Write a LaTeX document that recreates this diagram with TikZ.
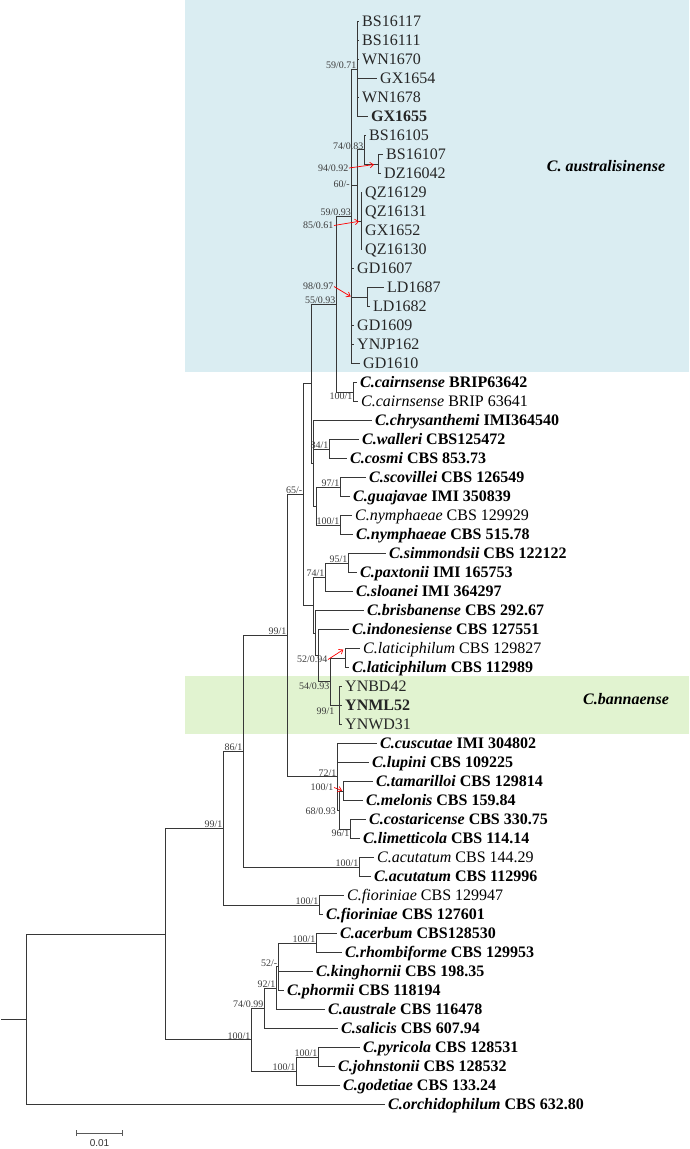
\documentclass[tikz,border=0pt]{standalone}
\usepackage{fontspec}
\setmainfont{Liberation Serif}
\newfontfamily\barfont{Liberation Sans}
\usetikzlibrary{arrows.meta,calc}
\definecolor{cladeblue}{RGB}{218,237,242}
\definecolor{cladegreen}{RGB}{225,243,208}
\definecolor{linegray}{RGB}{55,55,55}
\definecolor{supgray}{RGB}{60,60,60}
\newcommand{\spb}[2]{\textbf{\textit{#1} #2}}
\newcommand{\spr}[2]{\textit{#1} #2}
\tikzset{
  branch/.style={draw=linegray, line width=1pt},
  leaf/.style={anchor=west, inner xsep=3pt, inner ysep=0pt, text height=10.6pt, text depth=0pt, font=\fontsize{16}{19}\selectfont},
  isolate/.style={leaf, text=black!85},
  support/.style={inner sep=0.5pt, text depth=0pt, text=supgray, font=\fontsize{10}{12}\selectfont},
  redarrow/.style={draw=red, line width=0.7pt, -{Straight Barb[length=3.5pt,width=5.5pt]}},
  cladename/.style={font=\fontsize{16}{19}\selectfont\bfseries\itshape},
  scalebar/.style={draw=black!65, line width=0.9pt, {Bar[width=6pt]}-{Bar[width=6pt]}}
}
\begin{document}
\begin{tikzpicture}[x=1pt,y=-1pt]
	\useasboundingbox (0,0) rectangle (689,1149);
	\fill[cladeblue] (185,0) rectangle (689,372);
	\fill[cladegreen] (185,676) rectangle (689,734);
	\node[cladename] (australis) at (606,166) {C. australisinense};
	\node[cladename] (bannaense) at (626,699) {C.bannaense};
	% tips
	\node[isolate] (bs16117) at (359,21.5) {BS16117};
	\node[isolate] (bs16111) at (359,40.5) {BS16111};
	\node[isolate] (wn1670) at (359,59.5) {WN1670};
	\node[isolate] (gx1654) at (377,78.5) {GX1654};
	\node[isolate] (wn1678) at (359,97.5) {WN1678};
	\node[isolate] (gx1655) at (368,116.5) {\textbf{GX1655}};
	\node[isolate] (bs16105) at (366,135.5) {BS16105};
	\node[isolate] (bs16107) at (383,154.5) {BS16107};
	\node[isolate] (dz16042) at (381,173.5) {DZ16042};
	\node[isolate] (qz16129) at (362,192.5) {QZ16129};
	\node[isolate] (qz16131) at (362,211.5) {QZ16131};
	\node[isolate] (gx1652) at (362,230.5) {GX1652};
	\node[isolate] (qz16130) at (362,249.5) {QZ16130};
	\node[isolate] (gd1607) at (354,268.5) {GD1607};
	\node[isolate] (ld1687) at (384,287.5) {LD1687};
	\node[isolate] (ld1682) at (370,306.5) {LD1682};
	\node[isolate] (gd1609) at (354,325.5) {GD1609};
	\node[isolate] (ynjp162) at (354,344.5) {YNJP162};
	\node[isolate] (gd1610) at (360,363.5) {GD1610};
	\node[leaf] (cair1) at (357,382.5) {\spb{C.cairnsense}{BRIP63642}};
	\node[leaf] (cair2) at (358,401.5) {\spr{C.cairnsense}{BRIP 63641}};
	\node[leaf] (chrys) at (372,420.5) {\spb{C.chrysanthemi}{IMI364540}};
	\node[leaf] (walleri) at (359,439.5) {\spb{C.walleri}{CBS125472}};
	\node[leaf] (cosmi) at (347,458.5) {\spb{C.cosmi}{CBS 853.73}};
	\node[leaf] (scov) at (366,477.5) {\spb{C.scovillei}{CBS 126549}};
	\node[leaf] (guaj) at (350,496.5) {\spb{C.guajavae}{IMI 350839}};
	\node[leaf] (nymph1) at (352,515.5) {\spr{C.nymphaeae}{CBS 129929}};
	\node[leaf] (nymph2) at (353,534.5) {\spb{C.nymphaeae}{CBS 515.78}};
	\node[leaf] (simm) at (386,553.5) {\spb{C.simmondsii}{CBS 122122}};
	\node[leaf] (paxt) at (357,572.5) {\spb{C.paxtonii}{IMI 165753}};
	\node[leaf] (sloan) at (353,591.5) {\spb{C.sloanei}{IMI 364297}};
	\node[leaf] (brisb) at (364,610.5) {\spb{C.brisbanense}{CBS 292.67}};
	\node[leaf] (indon) at (349,629.5) {\spb{C.indonesiense}{CBS 127551}};
	\node[leaf] (latic1) at (360,648.5) {\spr{C.laticiphilum}{CBS 129827}};
	\node[leaf] (latic2) at (349,667.5) {\spb{C.laticiphilum}{CBS 112989}};
	\node[isolate] (ynbd42) at (342,686.5) {YNBD42};
	\node[isolate] (ynml52) at (342,705.5) {\textbf{YNML52}};
	\node[isolate] (ynwd31) at (342,724.5) {YNWD31};
	\node[leaf] (cusc) at (377,743.5) {\spb{C.cuscutae}{IMI 304802}};
	\node[leaf] (lupin) at (369,762.5) {\spb{C.lupini}{CBS 109225}};
	\node[leaf] (tamar) at (373,781.5) {\spb{C.tamarilloi}{CBS 129814}};
	\node[leaf] (melon) at (363,800.5) {\spb{C.melonis}{CBS 159.84}};
	\node[leaf] (costa) at (366,819.5) {\spb{C.costaricense}{CBS 330.75}};
	\node[leaf] (limet) at (360,838.5) {\spb{C.limetticola}{CBS 114.14}};
	\node[leaf] (acut1) at (374,857.5) {\spr{C.acutatum}{CBS 144.29}};
	\node[leaf] (acut2) at (371,876.5) {\spb{C.acutatum}{CBS 112996}};
	\node[leaf] (fior1) at (344,895.5) {\spr{C.fioriniae}{CBS 129947}};
	\node[leaf] (fior2) at (323,914.5) {\spb{C.fioriniae}{CBS 127601}};
	\node[leaf] (acerb) at (337,933.5) {\spb{C.acerbum}{CBS128530}};
	\node[leaf] (rhomb) at (342,952.5) {\spb{C.rhombiforme}{CBS 129953}};
	\node[leaf] (kingh) at (313,971.5) {\spb{C.kinghornii}{CBS 198.35}};
	\node[leaf] (phorm) at (284,990.5) {\spb{C.phormii}{CBS 118194}};
	\node[leaf] (austr) at (325,1009.5) {\spb{C.australe}{CBS 116478}};
	\node[leaf] (salic) at (338,1028.5) {\spb{C.salicis}{CBS 607.94}};
	\node[leaf] (pyric) at (360,1047.5) {\spb{C.pyricola}{CBS 128531}};
	\node[leaf] (johns) at (335,1066.5) {\spb{C.johnstonii}{CBS 128532}};
	\node[leaf] (godet) at (340,1085.5) {\spb{C.godetiae}{CBS 133.24}};
	\node[leaf] (orchid) at (385,1104.5) {\spb{C.orchidophilum}{CBS 632.80}};
	% internal nodes
	\coordinate (n59) at (357,69);
	\coordinate (n94) at (378,164);
	\coordinate (n74) at (364,149.75);
	\coordinate (n85) at (361,221);
	\coordinate (n60) at (357.5,185.4);
	\coordinate (n98) at (367,297);
	\coordinate (n5993) at (351.5,216.25);
	\coordinate (ncair) at (353,392);
	\coordinate (n55) at (336,304.1);
	\coordinate (n84) at (329,449);
	\coordinate (n97) at (340,487);
	\coordinate (nnymph) at (340,525);
	\coordinate (nsco) at (316,506);
	\coordinate (nchr) at (313,463.25);
	\coordinate (nupper) at (311,383.7);
	\coordinate (n95) at (348,563);
	\coordinate (n741) at (325,577.25);
	\coordinate (nlat) at (345,658);
	\coordinate (nban) at (339,705.5);
	\coordinate (n54) at (330,681.75);
	\coordinate (nind) at (318,655.6);
	\coordinate (nbri) at (315,633);
	\coordinate (nlower) at (313,605.1);
	\coordinate (n65) at (303,494.4);
	\coordinate (ntam) at (343,791);
	\coordinate (n96) at (350,829);
	\coordinate (n68) at (339.5,810);
	\coordinate (n72) at (337,776.75);
	\coordinate (n99a) at (287,635.6);
	\coordinate (nacu) at (359,867);
	\coordinate (n86) at (243,751.3);
	\coordinate (nfio) at (319,905);
	\coordinate (n99b) at (223,828.15);
	\coordinate (nacer) at (316,943);
	\coordinate (n52) at (278,966.75);
	\coordinate (n92) at (276,988.1);
	\coordinate (n7499) at (264,1008.3);
	\coordinate (npyr) at (318,1057);
	\coordinate (ngod) at (296,1071.25);
	\coordinate (nsouth) at (251,1039.8);
	\coordinate (nin) at (165,934);
	\coordinate (root) at (26,1019.25);
	\coordinate (stub) at (1,1019.25);
	% branches
	\draw[branch] (n59) |- (bs16117.west) (n59) |- (bs16111.west) (n59) |- (wn1670.west) (n59) |- (gx1654.west) (n59) |- (wn1678.west) (n59) |- (gx1655.west);
	\draw[branch] (n94) |- (bs16107.west) (n94) |- (dz16042.west);
	\draw[branch] (n74) |- (bs16105.west) (n74) |- (n94);
	\draw[branch] (n85) |- (qz16129.west) (n85) |- (qz16131.west) (n85) |- (gx1652.west) (n85) |- (qz16130.west);
	\draw[branch] (n60) |- (n74) (n60) |- (n85);
	\draw[branch] (n98) |- (ld1687.west) (n98) |- (ld1682.west);
	\draw[branch] (n5993) |- (n59) (n5993) |- (n60) (n5993) |- (gd1607.west) (n5993) |- (n98) (n5993) |- (gd1609.west) (n5993) |- (ynjp162.west) (n5993) |- (gd1610.west);
	\draw[branch] (ncair) |- (cair1.west) (ncair) |- (cair2.west);
	\draw[branch] (n55) |- (n5993) (n55) |- (ncair);
	\draw[branch] (n84) |- (walleri.west) (n84) |- (cosmi.west);
	\draw[branch] (n97) |- (scov.west) (n97) |- (guaj.west);
	\draw[branch] (nnymph) |- (nymph1.west) (nnymph) |- (nymph2.west);
	\draw[branch] (nsco) |- (n97) (nsco) |- (nnymph);
	\draw[branch] (nchr) |- (chrys.west) (nchr) |- (n84) (nchr) |- (nsco);
	\draw[branch] (nupper) |- (n55) (nupper) |- (nchr);
	\draw[branch] (n95) |- (simm.west) (n95) |- (paxt.west);
	\draw[branch] (n741) |- (n95) (n741) |- (sloan.west);
	\draw[branch] (nlat) |- (latic1.west) (nlat) |- (latic2.west);
	\draw[branch] (nban) |- (ynbd42.west) (nban) |- (ynml52.west) (nban) |- (ynwd31.west);
	\draw[branch] (n54) |- (nlat) (n54) |- (nban);
	\draw[branch] (nind) |- (indon.west) (nind) |- (n54);
	\draw[branch] (nbri) |- (brisb.west) (nbri) |- (nind);
	\draw[branch] (nlower) |- (n741) (nlower) |- (nbri);
	\draw[branch] (n65) |- (nupper) (n65) |- (nlower);
	\draw[branch] (ntam) |- (tamar.west) (ntam) |- (melon.west);
	\draw[branch] (n96) |- (costa.west) (n96) |- (limet.west);
	\draw[branch] (n68) |- (ntam) (n68) |- (n96);
	\draw[branch] (n72) |- (cusc.west) (n72) |- (lupin.west) (n72) |- (n68);
	\draw[branch] (n99a) |- (n65) (n99a) |- (n72);
	\draw[branch] (nacu) |- (acut1.west) (nacu) |- (acut2.west);
	\draw[branch] (n86) |- (n99a) (n86) |- (nacu);
	\draw[branch] (nfio) |- (fior1.west) (nfio) |- (fior2.west);
	\draw[branch] (n99b) |- (n86) (n99b) |- (nfio);
	\draw[branch] (nacer) |- (acerb.west) (nacer) |- (rhomb.west);
	\draw[branch] (n52) |- (nacer) (n52) |- (kingh.west) (n52) |- (phorm.west);
	\draw[branch] (n92) |- (n52) (n92) |- (austr.west);
	\draw[branch] (n7499) |- (n92) (n7499) |- (salic.west);
	\draw[branch] (npyr) |- (pyric.west) (npyr) |- (johns.west);
	\draw[branch] (ngod) |- (npyr) (ngod) |- (godet.west);
	\draw[branch] (nsouth) |- (n7499) (nsouth) |- (ngod);
	\draw[branch] (nin) |- (n99b) (nin) |- (nsouth);
	\draw[branch] (root) |- (nin) (root) |- (orchid.west);
	\draw[branch] (stub) -- (root);
	% support values
	\node[support, anchor=south east] (s5971) at (n59) {59/0.71};
	\node[support, anchor=south east] (s7483) at (n74) {74/0.83};
	\node[support, anchor=east] (s9492) at (349,168) {94/0.92};
	\node[support, anchor=east] (s60) at (350.5,184) {60/-};
	\node[support, anchor=south east] (s5993) at (n5993) {59/0.93};
	\node[support, anchor=east] (s8561) at (334,225.5) {85/0.61};
	\node[support, anchor=east] (s9897) at (334,286.5) {98/0.97};
	\node[support, anchor=south east] (s5593) at (n55) {55/0.93};
	\node[support, anchor=north east] (scair) at (ncair) {100/1};
	\node[support, anchor=south east] (s84) at (n84) {84/1};
	\node[support, anchor=south east] (s97) at (n97) {97/1};
	\node[support, anchor=south east] (snymph) at (nnymph) {100/1};
	\node[support, anchor=south east] (s65) at (n65) {65/-};
	\node[support, anchor=south east] (s95) at (n95) {95/1};
	\node[support, anchor=south east] (s741) at (n741) {74/1};
	\node[support, anchor=east] (s5294) at (328,659.5) {52/0.94};
	\node[support, anchor=north east] (s5493) at (n54) {54/0.93};
	\node[support, anchor=north east] (sban) at (335,707) {99/1};
	\node[support, anchor=south east] (s99a) at (n99a) {99/1};
	\node[support, anchor=south east] (s72) at (n72) {72/1};
	\node[support, anchor=east] (stam) at (334,787.5) {100/1};
	\node[support, anchor=east] (s6893) at (336.5,811) {68/0.93};
	\node[support, anchor=north east] (s96) at (n96) {96/1};
	\node[support, anchor=south east] (sacu) at (nacu) {100/1};
	\node[support, anchor=south east] (s86) at (n86) {86/1};
	\node[support, anchor=south east] (sfio) at (nfio) {100/1};
	\node[support, anchor=south east] (s99b) at (n99b) {99/1};
	\node[support, anchor=south east] (sacer) at (nacer) {100/1};
	\node[support, anchor=south east] (s52) at (n52) {52/-};
	\node[support, anchor=south east] (s92) at (n92) {92/1};
	\node[support, anchor=south east] (s7499) at (n7499) {74/0.99};
	\node[support, anchor=south east] (ssouth) at (nsouth) {100/1};
	\node[support, anchor=south east] (spyr) at (npyr) {100/1};
	\node[support, anchor=south east] (sgod) at (ngod) {100/1};
	% red pointers to crowded nodes
	\draw[redarrow, shorten >=4pt] (s9492.east) -- (n94);
	\draw[redarrow, shorten >=2pt] (s8561.east) -- (n85);
	\draw[redarrow, shorten >=1pt] (s9897.east) -- (n5993 |- n98);
	\draw[redarrow, shorten >=2pt] (s5294.east) -- (nlat |- latic1);
	\draw[redarrow, shorten >=1pt] (stam.east) -- (ntam);
	% scale bar
	\coordinate (barL) at (76,1133);
	\coordinate (barR) at (123,1133);
	\draw[scalebar] (barL) -- (barR);
	\node[font=\barfont\fontsize{10}{12}\selectfont, text=black!80] (barlabel) at (99.5,1143) {0.01};
\end{tikzpicture}
\end{document}
